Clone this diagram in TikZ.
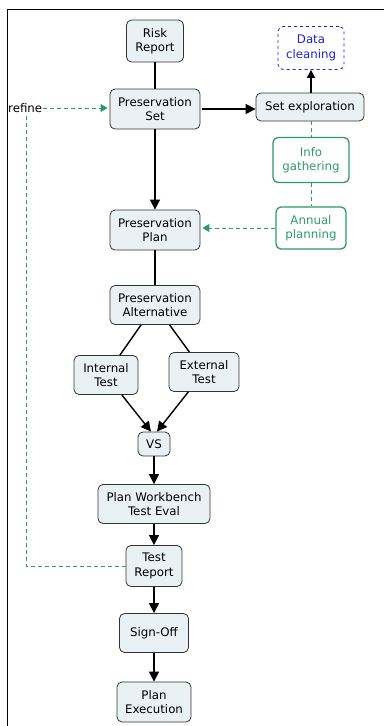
\documentclass[tikz,border=0pt]{standalone}
\usepackage{fontspec}
\setmainfont{DejaVu Sans}
\usetikzlibrary{arrows.meta}
\definecolor{boxfill}{HTML}{EAF1F4}
\definecolor{boxline}{HTML}{333333}
\definecolor{infogreen}{HTML}{2E9A68}
\definecolor{cleanblue}{HTML}{2222CC}
\begin{document}
\begin{tikzpicture}[
        x=1pt, y=-1pt,
        font=\fontsize{11.8}{14.5}\selectfont,
        box/.style={draw=boxline, fill=boxfill, rounded corners=5pt,
            align=center, inner sep=1pt, line width=0.8pt},
        greenbox/.style={draw=infogreen, text=infogreen, fill=white,
            rounded corners=5pt, align=center, inner sep=1pt, line width=1.3pt},
        flow/.style={line width=1.4pt, -{Triangle[length=10pt,width=10pt]}},
        link/.style={line width=1.4pt},
        hint/.style={draw=infogreen, line width=0.9pt, dash pattern=on 4pt off 3pt},
        ]
        \useasboundingbox (0,0) rectangle (384,726);
        % frame
        \draw [line width=0.9pt] (7,726) -- (7,9) -- (384,9);

        % main column
        \node [box, minimum width=57pt, minimum height=42pt] (risk) at (155,41) {Risk\\Report};
        \node [box, minimum width=90pt, minimum height=40pt] (pset) at (155,109) {Preservation\\Set};
        \node [box, minimum width=90pt, minimum height=40pt] (pplan) at (155,230) {Preservation\\Plan};
        \node [box, minimum width=90pt, minimum height=39pt] (palt) at (155,305) {Preservation\\Alternative};
        \node [box, minimum width=64pt, minimum height=39pt] (internal) at (106,375) {Internal\\Test};
        \node [box, minimum width=70pt, minimum height=39pt] (external) at (204,372) {External\\Test};
        \node [box, minimum width=32pt, minimum height=24pt] (vs) at (154,444) {VS};
        \node [box, minimum width=112pt, minimum height=39pt] (bench) at (154,504) {Plan Workbench\\Test Eval};
        \node [box, minimum width=56pt, minimum height=41pt] (testrep) at (154,566) {Test\\Report};
        \node [box, minimum width=69pt, minimum height=39pt] (signoff) at (154,633) {Sign-Off};
        \node [box, minimum width=74pt, minimum height=40pt] (exec) at (154,702) {Plan\\Execution};

        % right column
        \node [box, minimum width=108pt, minimum height=28pt] (setexp) at (310,107) {Set exploration};
        \node [draw=cleanblue, text=cleanblue, dashed, rounded corners=5pt, align=center,
            inner sep=1pt, line width=0.8pt, minimum width=66pt, minimum height=43pt]
            (clean) at (311,48) {Data\\cleaning};
        \node [greenbox, minimum width=76pt, minimum height=45pt] (info) at (311,160) {Info\\gathering};
        \node [greenbox, minimum width=70pt, minimum height=42pt] (annual) at (311,228) {Annual\\planning};

        % refine loop
        \node [anchor=west, inner sep=1pt] (refine) at (7,108) {refine};
        \coordinate (loop) at (26,566);

        % connectors
        \draw [link] (risk) -- (pset);
        \draw [flow, shorten <=2pt] (pset.east) -- (pset.east -| setexp.west);
        \draw [flow, line width=1.2pt, -{Triangle[length=8pt,width=8pt]}] (setexp.north -| clean) -- (clean.south);
        \draw [flow] (pset) -- (pplan);
        \draw [link] (pplan) -- (palt);
        \draw [link] (palt) -- (internal);
        \draw [link] (palt) -- (external);
        \draw [flow] (internal) -- ([xshift=-3pt]vs.north);
        \draw [flow] (external) -- ([xshift=3pt]vs.north);
        \draw [flow] (vs) -- (bench);
        \draw [flow] (bench) -- (testrep);
        \draw [flow] (testrep) -- (signoff);
        \draw [flow] (signoff) -- (exec);

        \draw [hint] (setexp.south -| info) -- (info.north);
        \draw [hint] (info) -- (annual);
        \draw [hint, -{Triangle[length=7pt,width=8pt]}, shorten >=2pt] (annual.west) -- (annual.west -| pplan.east);
        \draw [hint, -{Triangle[length=7pt,width=8pt]}, shorten >=2pt] (refine.east) -- (refine.east -| pset.west);
        \draw [hint] (testrep.west) -- (loop) -- (refine.south -| loop);
    \end{tikzpicture}
\end{document}
